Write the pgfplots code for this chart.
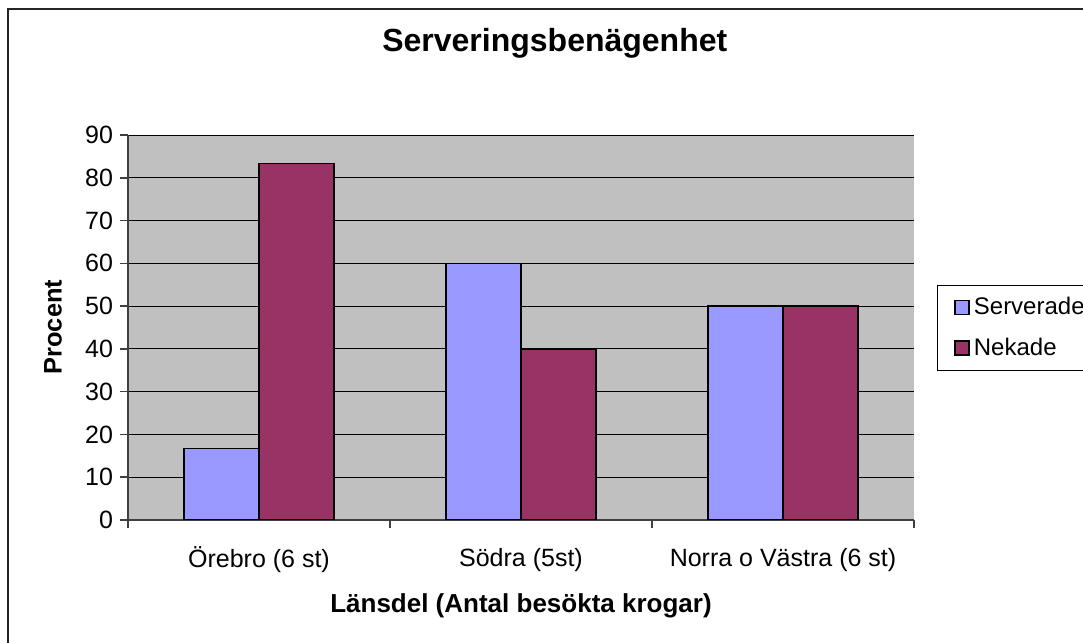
\documentclass[border=0pt]{standalone}
\usepackage{fontspec}
\setmainfont{Liberation Sans}
\usepackage{pgfplots}
\pgfplotsset{compat=1.18}
\definecolor{plotbg}{HTML}{C0C0C0}
\definecolor{serv}{HTML}{9999FF}
\definecolor{nek}{HTML}{993366}
\begin{document}
\begin{tikzpicture}[x=1pt,y=1pt]
\path[use as bounding box] (0,0) rectangle (541.5,321.5);
\clip (0,0) rectangle (541.5,321.5);
\fill[white] (0,0) rectangle (541.5,321.5);
\draw[line width=1pt, black!85] (4,-20) -- (4,317) -- (600,317);
\begin{axis}[
  at={(64pt,61.5pt)}, anchor=south west,
  width=393pt, height=192.5pt, scale only axis,
  xmin=0.5, xmax=3.5, ymin=0, ymax=90,
  ybar=0pt, bar width=0.286,
  axis background/.style={fill=plotbg},
  axis x line*=bottom, axis y line*=left,
  axis line style={black!75, line width=0.75pt, -},
  ymajorgrids, grid style={black, line width=0.5pt},
  ytick={0,10,...,90},
  xtick={1,2,3},
  xticklabels={Örebro (6 st), Södra (5st), Norra o Västra (6 st)},
  tick align=outside, major tick length=4pt,
  tick style={black!75, line width=0.75pt},
  xtick style={draw=none},
  extra x ticks={0.5,1.5,2.5,3.5},
  extra x tick labels={},
  extra x tick style={xtick style={draw=black!75, line width=0.75pt}, grid=none},
  font=\fontsize{12.5}{15}\selectfont,
  /pgf/number format/assume math mode=true,
  xticklabel style={anchor=center, yshift=-16pt},
  title={Serveringsbenägenhet},
  title style={font=\bfseries\fontsize{16}{19}\selectfont, at={(axis description cs:0.543,1.208)}, anchor=center},
  xlabel={Länsdel (Antal besökta krogar)},
  xlabel style={font=\bfseries\fontsize{13}{15}\selectfont, at={(axis description cs:0.5,-0.223)}, anchor=center},
  ylabel={Procent},
  ylabel style={font=\bfseries\fontsize{12.7}{15}\selectfont, at={(axis description cs:-0.0954,0.501)}, anchor=center},
  legend style={at={(rel axis cs:1.029,0.6104)}, anchor=north west, draw=black, line width=0.5pt, fill=white,
    font=\fontsize{12}{14}\selectfont, row sep=6pt, inner ysep=4pt, inner xsep=7pt, cells={anchor=west}},
]
\addplot[fill=serv, draw=black, line width=0.8pt,
  legend image code/.code={\path (0pt,0pt) (8.5pt,0pt);\draw[fill=serv, draw=black, line width=0.75pt] (1.5pt,-3.5pt) rectangle (8.5pt,3.5pt);}]
  coordinates {(1,16.7) (2,60) (3,50)};
\addplot[fill=nek, draw=black, line width=0.8pt,
  legend image code/.code={\path (0pt,0pt) (8.5pt,0pt);\draw[fill=nek, draw=black, line width=0.75pt] (1.5pt,-3.5pt) rectangle (8.5pt,3.5pt);}]
  coordinates {(1,83.3) (2,40) (3,50)};
\legend{Serverade, Nekade}
\end{axis}
\end{tikzpicture}
\end{document}
